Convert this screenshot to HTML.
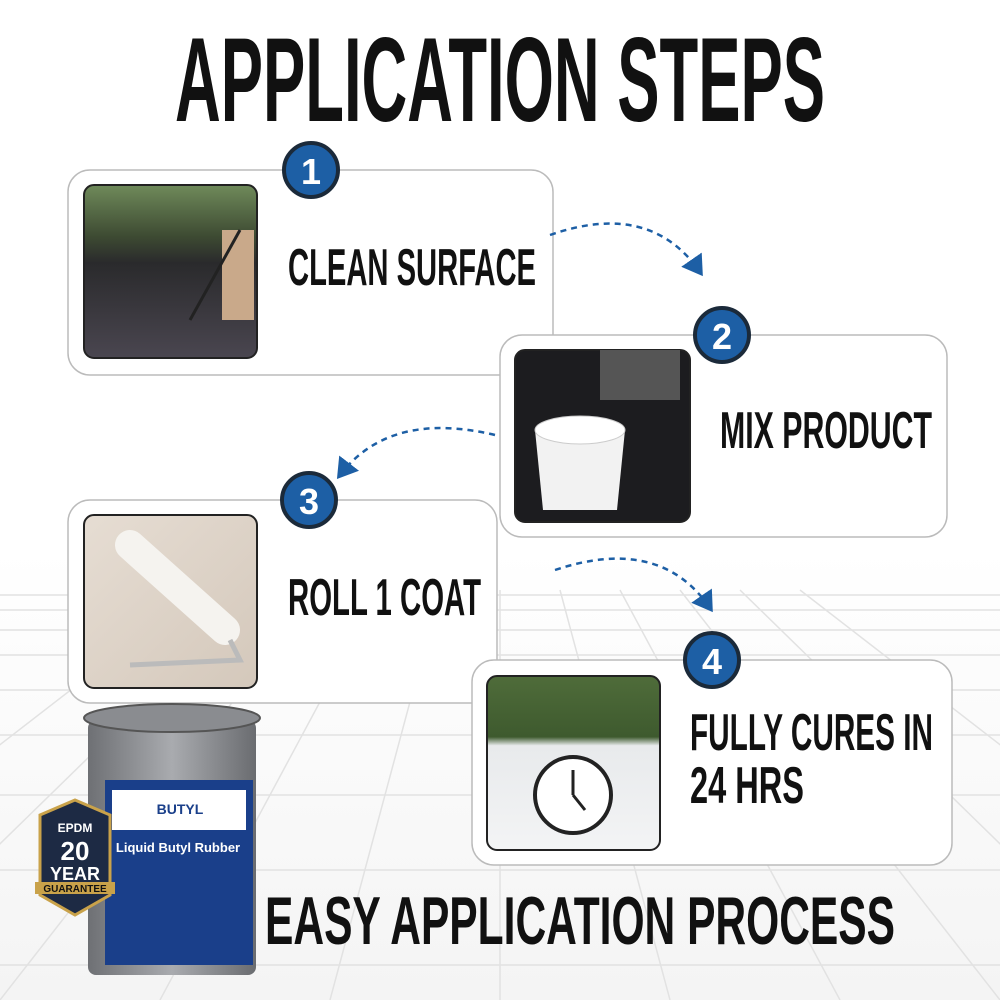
<!DOCTYPE html>
<html><head><meta charset="utf-8"><style>
html,body{margin:0;padding:0;background:#fff;}
svg{display:block;}
text{font-family:"Liberation Sans Narrow","Liberation Sans",sans-serif;font-weight:bold;fill:#111;}
</style></head><body>
<svg width="1000" height="1000" viewBox="0 0 1000 1000" xmlns="http://www.w3.org/2000/svg">
<defs>
<linearGradient id="bg" x1="0" y1="0" x2="0" y2="1">
<stop offset="0" stop-color="#fff"/><stop offset="0.55" stop-color="#fff"/><stop offset="1" stop-color="#f4f4f4"/></linearGradient>
<linearGradient id="p1" x1="0" y1="0" x2="0" y2="1">
<stop offset="0" stop-color="#6f8a5a"/><stop offset="0.3" stop-color="#3d4a32"/><stop offset="0.45" stop-color="#2a2a2c"/><stop offset="1" stop-color="#4a4650"/></linearGradient>
<linearGradient id="p3" x1="0" y1="0" x2="1" y2="1">
<stop offset="0" stop-color="#e6ddd3"/><stop offset="1" stop-color="#d4c8bb"/></linearGradient>
<linearGradient id="p4" x1="0" y1="0" x2="0" y2="1">
<stop offset="0" stop-color="#4f6c3a"/><stop offset="0.35" stop-color="#3e5a2e"/><stop offset="0.4" stop-color="#e8eaec"/><stop offset="1" stop-color="#f3f4f5"/></linearGradient>
<linearGradient id="can" x1="0" y1="0" x2="1" y2="0">
<stop offset="0" stop-color="#6e7074"/><stop offset="0.5" stop-color="#a9abaf"/><stop offset="1" stop-color="#6a6c70"/></linearGradient>
<marker id="ah" markerWidth="10" markerHeight="10" refX="6" refY="5" orient="auto">
<path d="M0,0 L8,5 L0,10 Z" fill="#1d5fa5"/></marker>
</defs>
<rect width="1000" height="1000" fill="url(#bg)"/>
<!-- grid -->
<g stroke="#e2e2e2" stroke-width="1.5" fill="none">
<line x1="0" y1="595" x2="1000" y2="595"/><line x1="0" y1="610" x2="1000" y2="610"/>
<line x1="0" y1="630" x2="1000" y2="630"/><line x1="0" y1="655" x2="1000" y2="655"/>
<line x1="0" y1="690" x2="1000" y2="690"/><line x1="0" y1="735" x2="1000" y2="735"/>
<line x1="0" y1="795" x2="1000" y2="795"/><line x1="0" y1="870" x2="1000" y2="870"/>
<line x1="0" y1="965" x2="1000" y2="965"/>
<line x1="500" y1="590" x2="500" y2="1000"/>
<line x1="440" y1="590" x2="330" y2="1000"/><line x1="380" y1="590" x2="160" y2="1000"/>
<line x1="320" y1="590" x2="0" y2="1000"/><line x1="260" y1="590" x2="-160" y2="1000"/>
<line x1="560" y1="590" x2="670" y2="1000"/><line x1="620" y1="590" x2="840" y2="1000"/>
<line x1="680" y1="590" x2="1000" y2="1000"/><line x1="740" y1="590" x2="1160" y2="1000"/>
<line x1="800" y1="590" x2="1330" y2="1000"/><line x1="200" y1="590" x2="-330" y2="1000"/>
</g>
<!-- title -->
<text x="175" y="121" font-size="120" textLength="650" lengthAdjust="spacingAndGlyphs">APPLICATION STEPS</text>

<!-- card 1 -->
<rect x="68" y="170" width="485" height="205" rx="22" fill="#fff" stroke="#bbb" stroke-width="1.5"/>
<rect x="84" y="185" width="173" height="173" rx="10" fill="url(#p1)" stroke="#222" stroke-width="2"/>
<rect x="222" y="230" width="32" height="90" fill="#c9a98a"/>
<line x1="240" y1="230" x2="190" y2="320" stroke="#222" stroke-width="3"/>
<text x="288" y="285" font-size="52" textLength="248" lengthAdjust="spacingAndGlyphs">CLEAN SURFACE</text>
<circle cx="311" cy="170" r="27" fill="#1d5fa5" stroke="#1b2a3a" stroke-width="4"/>
<text x="311" y="184" font-size="36" fill="#fff" style="fill:#fff" text-anchor="middle">1</text>

<!-- card 2 -->
<rect x="500" y="335" width="447" height="202" rx="22" fill="#fff" stroke="#bbb" stroke-width="1.5"/>
<rect x="515" y="350" width="175" height="172" rx="10" fill="#1c1c1f" stroke="#222" stroke-width="2"/>
<path d="M535,430 L625,430 L617,510 L543,510 Z" fill="#f2f2f2"/>
<ellipse cx="580" cy="430" rx="45" ry="14" fill="#fff" stroke="#ccc"/>
<rect x="600" y="350" width="80" height="50" fill="#555"/>
<text x="720" y="448" font-size="52" textLength="212" lengthAdjust="spacingAndGlyphs">MIX PRODUCT</text>
<circle cx="722" cy="335" r="27" fill="#1d5fa5" stroke="#1b2a3a" stroke-width="4"/>
<text x="722" y="349" font-size="36" style="fill:#fff" text-anchor="middle">2</text>

<!-- card 3 -->
<rect x="68" y="500" width="429" height="203" rx="22" fill="#fff" stroke="#bbb" stroke-width="1.5"/>
<rect x="84" y="515" width="173" height="173" rx="10" fill="url(#p3)" stroke="#222" stroke-width="2"/>
<line x1="130" y1="545" x2="225" y2="630" stroke="#f5f3ef" stroke-width="30" stroke-linecap="round"/>
<path d="M230,640 L240,660 L130,665" fill="none" stroke="#bbb" stroke-width="5"/>
<text x="288" y="615" font-size="52" textLength="193" lengthAdjust="spacingAndGlyphs">ROLL 1 COAT</text>
<circle cx="309" cy="500" r="27" fill="#1d5fa5" stroke="#1b2a3a" stroke-width="4"/>
<text x="309" y="514" font-size="36" style="fill:#fff" text-anchor="middle">3</text>

<!-- card 4 -->
<rect x="472" y="660" width="480" height="205" rx="22" fill="#fff" stroke="#bbb" stroke-width="1.5"/>
<rect x="487" y="676" width="173" height="174" rx="10" fill="url(#p4)" stroke="#222" stroke-width="2"/>
<circle cx="573" cy="795" r="38" fill="#fff" stroke="#222" stroke-width="4"/>
<line x1="573" y1="795" x2="573" y2="770" stroke="#222" stroke-width="3"/>
<line x1="573" y1="795" x2="585" y2="810" stroke="#222" stroke-width="3"/>
<text x="690" y="750" font-size="52" textLength="243" lengthAdjust="spacingAndGlyphs">FULLY CURES IN</text>
<text x="690" y="803" font-size="52" textLength="114" lengthAdjust="spacingAndGlyphs">24 HRS</text>
<circle cx="712" cy="660" r="27" fill="#1d5fa5" stroke="#1b2a3a" stroke-width="4"/>
<text x="712" y="674" font-size="36" style="fill:#fff" text-anchor="middle">4</text>

<!-- arrows -->
<g fill="none" stroke="#1d5fa5" stroke-width="2.5" stroke-dasharray="6,5" marker-end="url(#ah)">
<path d="M550,235 Q650,200 700,272"/>
<path d="M495,435 Q390,410 340,475"/>
<path d="M555,570 Q660,535 710,608"/>
</g>

<!-- bucket -->
<rect x="88" y="720" width="168" height="255" rx="8" fill="url(#can)"/>
<ellipse cx="172" cy="718" rx="88" ry="14" fill="#8a8c90" stroke="#555" stroke-width="2"/>
<rect x="105" y="780" width="148" height="185" fill="#1a3f8a"/>
<rect x="112" y="790" width="134" height="40" fill="#fff"/>
<text x="180" y="814" font-size="14" style="fill:#1a3f8a" text-anchor="middle">BUTYL</text>
<text x="178" y="852" font-size="13" style="fill:#fff" text-anchor="middle">Liquid Butyl Rubber</text>
<path d="M40,815 L75,800 L110,815 L110,895 L75,915 L40,895 Z" fill="#1d2a44" stroke="#c9a24a" stroke-width="3"/>
<text x="75" y="832" font-size="12" style="fill:#fff" text-anchor="middle">EPDM</text>
<text x="75" y="860" font-size="26" style="fill:#fff" text-anchor="middle">20</text>
<text x="75" y="880" font-size="18" style="fill:#fff" text-anchor="middle">YEAR</text>
<rect x="35" y="882" width="80" height="12" fill="#c9a24a"/>
<text x="75" y="892" font-size="10" text-anchor="middle">GUARANTEE</text>

<!-- bottom -->
<text x="265" y="944" font-size="68" textLength="630" lengthAdjust="spacingAndGlyphs">EASY APPLICATION PROCESS</text>
</svg>
</body></html>
